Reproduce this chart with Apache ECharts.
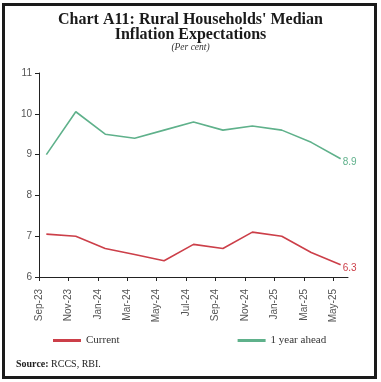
<!DOCTYPE html>
<html><head><meta charset="utf-8">
<script src="https://cdn.jsdelivr.net/npm/echarts@6/dist/echarts.min.js"></script>
<style>html,body{margin:0;padding:0;background:#fff}#c{width:381px;height:382px}</style>
</head><body><div id="c"></div>
<script>
// Axis months (monthly bands) and survey rounds
const months = ['Sep-23','Oct-23','Nov-23','Dec-23','Jan-24','Feb-24','Mar-24','Apr-24','May-24','Jun-24','Jul-24','Aug-24','Sep-24','Oct-24','Nov-24','Dec-24','Jan-25','Feb-25','Mar-25','Apr-25','May-25'];
const rounds = ['Sep-23','Nov-23','Jan-24','Mar-24','May-24','Jul-24','Sep-24','Nov-24','Jan-25','Mar-25','May-25'];
const tickLabels = ['Sep-23','Nov-23','Jan-24','Mar-24','May-24','Jul-24','Sep-24','Nov-24','Jan-25','Mar-25','May-25'];
const current = [7.05, 7.0, 6.7, 6.55, 6.4, 6.8, 6.7, 7.1, 7.0, 6.6, 6.3];
const yearAhead = [9.0, 10.05, 9.5, 9.4, 9.6, 9.8, 9.6, 9.7, 9.6, 9.3, 8.9];
const yTicks = [6, 7, 8, 9, 10, 11];

const RED = '#cc3f49', GREEN = '#5fb18b';
const serif = '"Liberation Serif", "DejaVu Serif", serif';
const sans = '"Liberation Sans", Arial, sans-serif';
const chart = echarts.init(document.getElementById('c'), null, {renderer: 'canvas'});
chart.setOption({
  animation: false,
  backgroundColor: '#fff',
  title: [
    {text: "Chart A11: Rural Households' Median\nInflation Expectations", left: 'center', top: 12, padding: 0,
     textStyle: {fontFamily: serif, fontWeight: 'bold', fontSize: 16, lineHeight: 15, color: '#1a1a1a'}},
    {text: '(Per cent)', left: 'center', top: 42, padding: 0,
     textStyle: {fontFamily: serif, fontStyle: 'italic', fontWeight: 'normal', fontSize: 9.5, color: '#333'}}
  ],
  grid: {left: 39, right: 33, top: 73, bottom: 105},
  xAxis: [
    {type: 'category', data: months, boundaryGap: true, show: false},
    {type: 'value', min: 0, max: months.length, interval: 2, position: 'bottom',
     axisLine: {show: true, lineStyle: {color: '#222', width: 1}},
     axisTick: {show: true, length: 4, lineStyle: {color: '#222'}},
     splitLine: {show: false},
     axisLabel: {rotate: 90, margin: 12, fontFamily: sans, fontSize: 10, color: '#555', padding: [6, 0, 0, 0],
       showMaxLabel: false,
       formatter: v => (v % 2 === 0 && v / 2 < tickLabels.length) ? tickLabels[v / 2] : ''}}
  ],
  yAxis: {type: 'value', min: yTicks[0], max: yTicks[yTicks.length - 1], interval: 1,
    axisLine: {show: true, lineStyle: {color: '#222', width: 1}},
    axisTick: {show: true, length: 4, lineStyle: {color: '#222'}},
    splitLine: {show: false},
    axisLabel: {margin: 7, fontFamily: sans, fontSize: 10, color: '#555'}},
  legend: {bottom: 36, left: 53, padding: 0, itemGap: 118, itemWidth: 28, itemHeight: 3, icon: 'rect',
    textStyle: {fontFamily: serif, fontSize: 11, color: '#333'},
    data: ['Current', '1 year ahead']},
  series: [
    {name: 'Current', type: 'line', xAxisIndex: 0, data: rounds.map((r, i) => [r, current[i]]),
     symbol: 'none', lineStyle: {color: RED, width: 1.6}, itemStyle: {color: RED},
     endLabel: {show: true, formatter: p => p.value[1].toFixed(1), color: RED, fontFamily: sans, fontSize: 10, distance: 2, offset: [0, 3]}},
    {name: '1 year ahead', type: 'line', xAxisIndex: 0, data: rounds.map((r, i) => [r, yearAhead[i]]),
     symbol: 'none', lineStyle: {color: GREEN, width: 1.6}, itemStyle: {color: GREEN},
     endLabel: {show: true, formatter: p => p.value[1].toFixed(1), color: GREEN, fontFamily: sans, fontSize: 10, distance: 2, offset: [0, 4]}}
  ],
  graphic: [
    {type: 'rect', shape: {x: 3.5, y: 4.5, width: 372, height: 373}, style: {fill: 'none', stroke: '#1a1a1a', lineWidth: 3}, silent: true},
    {type: 'text', left: 16, top: 359, style: {text: '{b|Source:} RCCS, RBI.', fontFamily: serif, fontSize: 10, fill: '#222',
      rich: {b: {fontWeight: 'bold', fontFamily: serif, fontSize: 10, fill: '#222'}}}}
  ]
});
</script></body></html>
